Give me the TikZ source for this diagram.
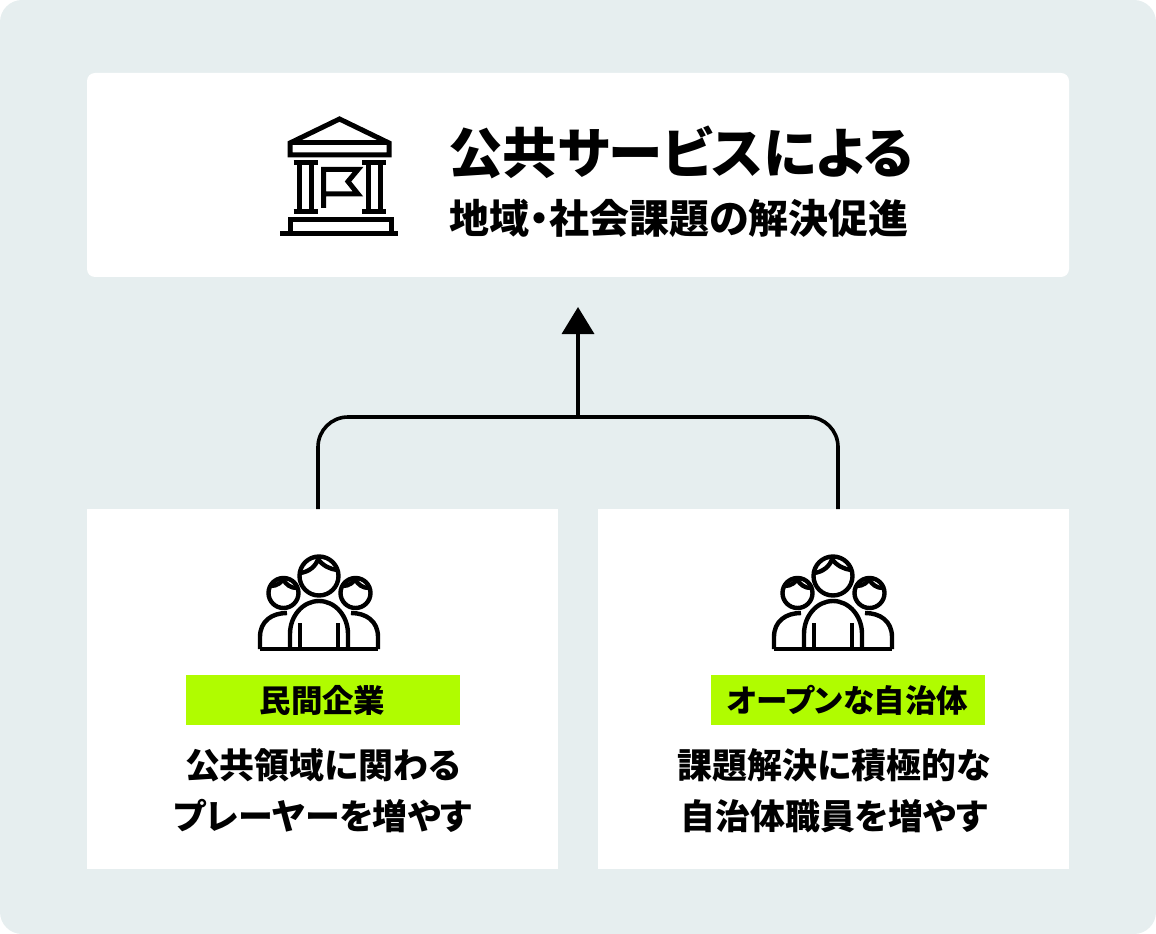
\documentclass[tikz,border=0pt]{standalone}
\usepackage{fontspec}
\usetikzlibrary{arrows.meta}
\newfontfamily\jpfont[RawFeature=+palt]{Noto Sans CJK JP}

\def\px{0.75pt}
\definecolor{bgcol}{HTML}{E6EEEF}
\definecolor{limecol}{HTML}{B0FC00}

\tikzset{
    panel/.style={fill=white, inner sep=0pt},
    tag/.style={fill=limecol, inner sep=0pt, minimum width=274*\px, minimum height=50*\px,
        font=\jpfont\bfseries\fontsize{23.6pt}{25pt}\selectfont},
    caption/.style={align=center, inner sep=0pt, font=\jpfont\bfseries\fontsize{26.2pt}{38.5pt}\selectfont},
    conn/.style={line width=3.6*\px, draw=black},
    icon/.style={line width=5*\px, draw=black, line join=miter},
    head/.style={line width=4.4*\px, draw=black, line join=round},
    people/.pic={
        % Heads
        \draw[head] (0,-33) circle (19.5);
        \draw[head] (-35.5,-16) circle (15);
        \draw[head] (36.5,-16) circle (15);
        % Hair
        \draw[head] (-19,-36) .. controls (-10,-37) and (-3,-43) .. (-1,-50) .. controls (4,-43) and (11,-40) .. (18,-39);
        \draw[head] (-48,-23) .. controls (-42,-23) and (-37,-27) .. (-36,-30) .. controls (-33,-24) and (-28,-21) .. (-22,-21);
        \draw[head] (24,-23) .. controls (30,-23) and (35,-27) .. (36,-30) .. controls (39,-24) and (44,-21) .. (50,-21);
        % Bodies
        \draw[head] (-29,40) -- (-29,25) arc[start angle=180, end angle=0, x radius=29, y radius=-33] -- (29,40);
        \draw[head] (-59,40) -- (-59,28) .. controls (-59,12) and (-47,4) .. (-32,4);
        \draw[head] (59,40) -- (59,28) .. controls (59,12) and (47,4) .. (32,4);
        \draw[head] (-59,40) -- (59,40);
        \draw[head] (-19,14) -- (-19,40);
        \draw[head] (19,14) -- (19,40);
    },
}

\begin{document}
\begin{tikzpicture}[x=0.75pt, y=-0.75pt]

    % Background
    \fill[bgcol, rounded corners=22*\px] (0,0) rectangle (1156,934);
    \useasboundingbox (0,0) rectangle (1156,934);

    % Panels
    \node[panel, rounded corners=8*\px, minimum width=982*\px, minimum height=204*\px] (goal) at (578,175) {};
    \node[panel, minimum width=471*\px, minimum height=360*\px] (firms) at (322.5,689) {};
    \node[panel, minimum width=471*\px, minimum height=360*\px] (gov) at (833.5,689) {};

    % Connectors
    \coordinate (hub) at (578,417);
    \coordinate (firmsout) at (318,509);
    \coordinate (govout) at (838,509);
    \coordinate (tip) at (578,307);
    \draw[conn, rounded corners=30*\px] (firmsout) |- (hub) -| (govout);
    \draw[conn, -{Triangle[length=27*\px, width=32*\px]}] (hub) -- (tip);

    % Building
    \draw[icon] (290,143) -- (339.5,119) -- (389,143) -- (389,155) -- (290,155) -- cycle;
    \draw[icon] (290,143) -- (389,143);
    \foreach \x in {305.5,374} {
        \draw[icon] (\x-12,163) -- (\x+12,163);
        \draw[icon] (\x-12,212) -- (\x+12,212);
        \draw[icon] (\x-6,163) -- (\x-6,212);
        \draw[icon] (\x+6,163) -- (\x+6,212);
    }
    \draw[icon] (323.5,208) -- (323.5,169.5) -- (358,169.5) -- (348,181.5) -- (358,194) -- (323.5,194);
    \draw[icon] (290,233) -- (290,220) -- (391,220) -- (391,233);
    \draw[icon] (280,233.5) -- (398,233.5);

    % Title
    \node[inner sep=0pt, font=\jpfont\bfseries\fontsize{40.9pt}{42pt}\selectfont] (title) at (681,152) {公共サービスによる};
    \node[inner sep=0pt, font=\jpfont\bfseries\fontsize{30pt}{32pt}\selectfont] (subtitle) at (679,218) {地域・社会課題の解決促進};

    % People
    \pic at (319,609) {people};
    \pic at (833,609) {people};

    % Tags
    \node[tag] (firmstag) at (322.5,700) {民間企業};
    \node[tag] (govtag) at (847.5,700) {オープンな自治体};

    % Captions
    \node[caption] (firmstext) at (323,791) {公共領域に関わる\\プレーヤーを増やす};
    \node[caption] (govtext) at (834,791) {課題解決に積極的な\\自治体職員を増やす};

\end{tikzpicture}
\end{document}
